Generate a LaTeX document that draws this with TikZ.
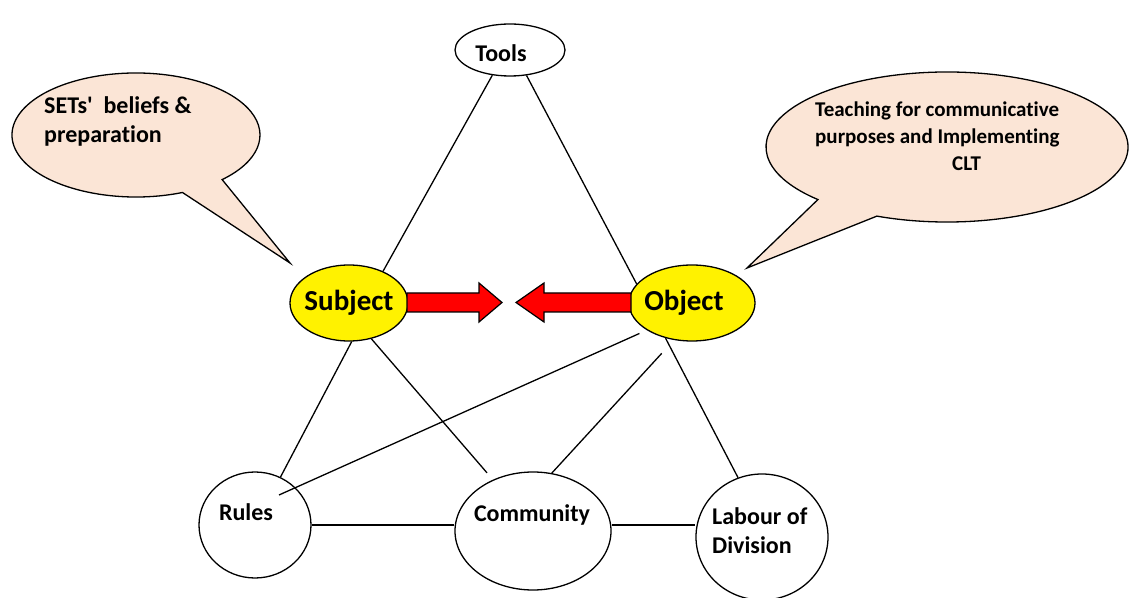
\documentclass[tikz,border=0pt]{standalone}
\usepackage{fontspec}
\setmainfont{Carlito}[Ligatures={NoCommon}]
\usetikzlibrary{shapes.geometric,calc}
\definecolor{peach}{RGB}{251,229,214}
\begin{document}
\begin{tikzpicture}[x=1pt,y=1pt,
  ell/.style={ellipse, draw, line width=1.3pt, inner sep=0pt},
  lbl/.style={font=\bfseries\fontsize{24}{29}\selectfont, inner sep=0pt},
  biglbl/.style={font=\bfseries\fontsize{29}{34}\selectfont, inner sep=0pt},
  smalllbl/.style={font=\bfseries\fontsize{21}{27}\selectfont, inner sep=0pt},
  link/.style={line width=1.3pt},
  bigarrow/.style={draw, line width=1.2pt, fill=red, line join=miter},
  callout/.style={draw, line width=1.3pt, fill=peach, line join=miter}]
\useasboundingbox (0,0) rectangle (1129,597);

% callouts
\path[callout] ({136+124*cos(-46)},{462+62*sin(-46)}) -- (290,334)
  -- ({136+124*cos(-68)},{462+62*sin(-68)})
  arc[start angle=-68, end angle=-406, x radius=124pt, y radius=62pt] -- cycle;
\path[callout] ({947+181*cos(-135.5)},{450+75*sin(-135.5)}) -- (747,329)
  -- ({947+181*cos(-112.8)},{450+75*sin(-112.8)})
  arc[start angle=-112.8, end angle=224.5, x radius=181pt, y radius=75pt] -- cycle;

% nodes
\node[ell, minimum width=110pt, minimum height=52pt] (tools) at (510,547) {};
\node[ell, fill=yellow, minimum width=118pt, minimum height=76pt] (subject) at (349,294) {};
\node[ell, fill=yellow, minimum width=126pt, minimum height=76pt] (object) at (692,294) {};
\node[ell, minimum width=112pt, minimum height=106pt] (rules) at (255,72) {};
\node[ell, minimum width=156pt, minimum height=118pt] (community) at (533,66) {};
\node[ell, minimum width=132pt, minimum height=126pt] (labour) at (762,60) {};

% links
\draw[link] (tools.235) -- (subject.43);
\draw[link] (tools.303) -- (object.161);
\draw[link] (subject.274) -- (rules.62);
\draw[link, shorten >=9pt] (subject.302) -- (community.128);
\coordinate (rulesIn) at (279,102);
\draw[link, shorten <=8pt] (object.211) -- (rulesIn);
\draw[link, shorten <=18pt] (object.244) -- (community.72);
\draw[link] (object.233) -- (labour.112);
\draw[link] (rules.east) -- (rules.east -| community.west);
\draw[link] (community.east |- rules.east) -- (labour.west |- rules.east);

% big arrows
\path[bigarrow] (407,285) -- (479,285) -- (479,275) -- (502,294.5) -- (479,314) -- (479,304) -- (407,304) -- cycle;
\path[bigarrow] (631,285) -- (544,285) -- (544,275) -- (516,294.5) -- (544,314) -- (544,304) -- (631,304) -- cycle;

% texts
\node[lbl] (toolsT) at (501,544) {Tools};
\node[biglbl] (subjectT) at (349,294) {Subject};
\node[biglbl] (objectT) at (684,294) {Object};
\node[lbl] (rulesT) at (246,85) {Rules};
\node[lbl] (communityT) at (532,82) {Community};
\node[lbl, anchor=west, align=left] (labourT) at (712,66) {Labour of\\Division};
\node[lbl, anchor=west, align=left] (setsT) at (44,476) {SETs\textquotesingle\ \ beliefs \&\\preparation};
\node[smalllbl, anchor=west, align=left] (cltT) at (815,461) {Teaching for communicative\\purposes and Implementing\\\hspace*{137pt}CLT};
\end{tikzpicture}
\end{document}
